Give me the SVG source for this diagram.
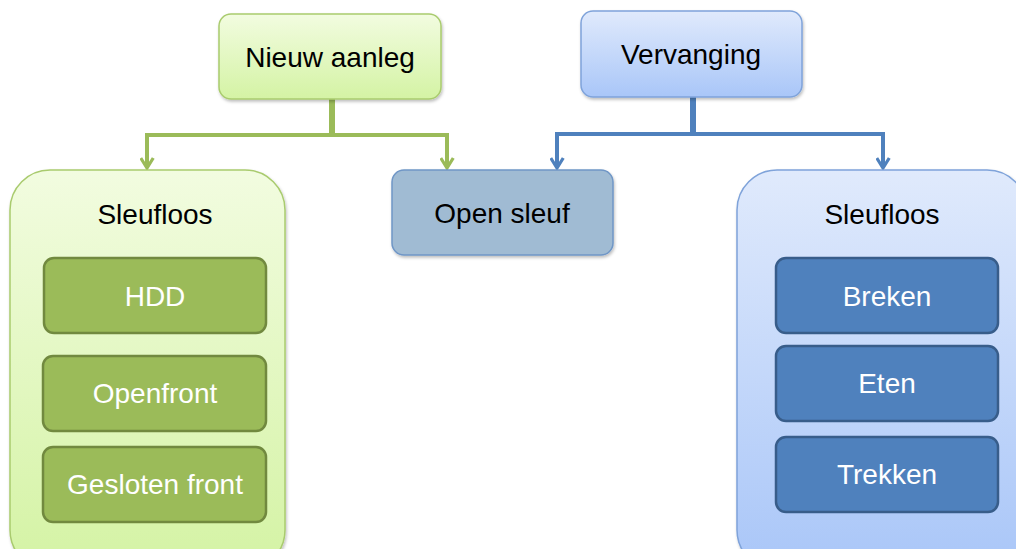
<svg xmlns="http://www.w3.org/2000/svg" width="1016" height="549" viewBox="0 0 1016 549">
<defs>
<linearGradient id="gGreen" x1="0" y1="0" x2="0" y2="1"><stop offset="0" stop-color="#F2FCE0"/><stop offset="1" stop-color="#D4F3A4"/></linearGradient>
<linearGradient id="gBlue" x1="0" y1="0" x2="0" y2="1"><stop offset="0" stop-color="#E0EAFC"/><stop offset="1" stop-color="#A9C6F8"/></linearGradient>
<filter id="sh" x="-10%" y="-10%" width="125%" height="130%"><feDropShadow dx="1" dy="2" stdDeviation="1.5" flood-color="#000" flood-opacity="0.25"/></filter>
<marker id="arG" viewBox="0 0 12 12" refX="10" refY="6" markerWidth="15" markerHeight="15" markerUnits="userSpaceOnUse" orient="auto"><path d="M2,1 L10,6 L2,11" fill="none" stroke="#9BBB59" stroke-width="2.6"/></marker>
<marker id="arB" viewBox="0 0 12 12" refX="10" refY="6" markerWidth="15" markerHeight="15" markerUnits="userSpaceOnUse" orient="auto"><path d="M2,1 L10,6 L2,11" fill="none" stroke="#4F81BD" stroke-width="2.6"/></marker>
</defs>
<style>
text{font-family:"Liberation Sans",Arial,sans-serif;font-size:28px;text-anchor:middle}
.dark{fill:#000}
.light{fill:#fff}
.gtop{fill:url(#gGreen);stroke:#A9CB6E;stroke-width:1.5}
.btop{fill:url(#gBlue);stroke:#7FA3DA;stroke-width:1.5}
.gin{fill:#9BBB59;stroke:#71893F;stroke-width:2.5}
.bin{fill:#4F81BD;stroke:#385D8A;stroke-width:2.5}
.open{fill:#A0BBD3;stroke:#6F96C6;stroke-width:1.5}
.cg{fill:none;stroke:#9BBB59;stroke-width:4}
.cb{fill:none;stroke:#4F81BD;stroke-width:4}
.stem{stroke-width:6}
</style>
<rect width="1016" height="549" fill="#fff"/>
<g id="connectors">
<path class="cg stem" d="M332,99 V135"/>
<path class="cg" d="M332,135 H147 V168" marker-end="url(#arG)"/>
<path class="cg" d="M332,135 H447 V168" marker-end="url(#arG)"/>
<path class="cb stem" d="M693,97 V134"/>
<path class="cb" d="M693,134 H557 V168" marker-end="url(#arB)"/>
<path class="cb" d="M693,134 H883 V168" marker-end="url(#arB)"/>
</g>
<g id="nieuw-aanleg">
<rect class="gtop" x="219" y="14" width="222" height="85" rx="12" filter="url(#sh)"/>
<text class="dark" x="330" y="67">Nieuw aanleg</text>
</g>
<g id="vervanging">
<rect class="btop" x="581" y="11" width="221" height="86" rx="12" filter="url(#sh)"/>
<text class="dark" x="691" y="64">Vervanging</text>
</g>
<g id="open-sleuf">
<rect class="open" x="392" y="170" width="221" height="85" rx="12" filter="url(#sh)"/>
<text class="dark" x="502" y="223">Open sleuf</text>
</g>
<g id="sleufloos-nieuw">
<rect class="gtop" x="10" y="170" width="275" height="400" rx="40" filter="url(#sh)"/>
<text class="dark" x="155" y="224">Sleufloos</text>
</g>
<g id="hdd">
<rect class="gin" x="44" y="258" width="222" height="75" rx="10"/>
<text class="light" x="155" y="306">HDD</text>
</g>
<g id="openfront">
<rect class="gin" x="43" y="356" width="223" height="75" rx="10"/>
<text class="light" x="155" y="403">Openfront</text>
</g>
<g id="gesloten-front">
<rect class="gin" x="43" y="447" width="223" height="75" rx="10"/>
<text class="light" x="155" y="494">Gesloten front</text>
</g>
<g id="sleufloos-vervanging">
<rect class="btop" x="737" y="170" width="290" height="400" rx="40" filter="url(#sh)"/>
<text class="dark" x="882" y="224">Sleufloos</text>
</g>
<g id="breken">
<rect class="bin" x="776" y="258" width="222" height="75" rx="10"/>
<text class="light" x="887" y="306">Breken</text>
</g>
<g id="eten">
<rect class="bin" x="776" y="346" width="222" height="75" rx="10"/>
<text class="light" x="887" y="393">Eten</text>
</g>
<g id="trekken">
<rect class="bin" x="776" y="437" width="222" height="75" rx="10"/>
<text class="light" x="887" y="484">Trekken</text>
</g>
</svg>
